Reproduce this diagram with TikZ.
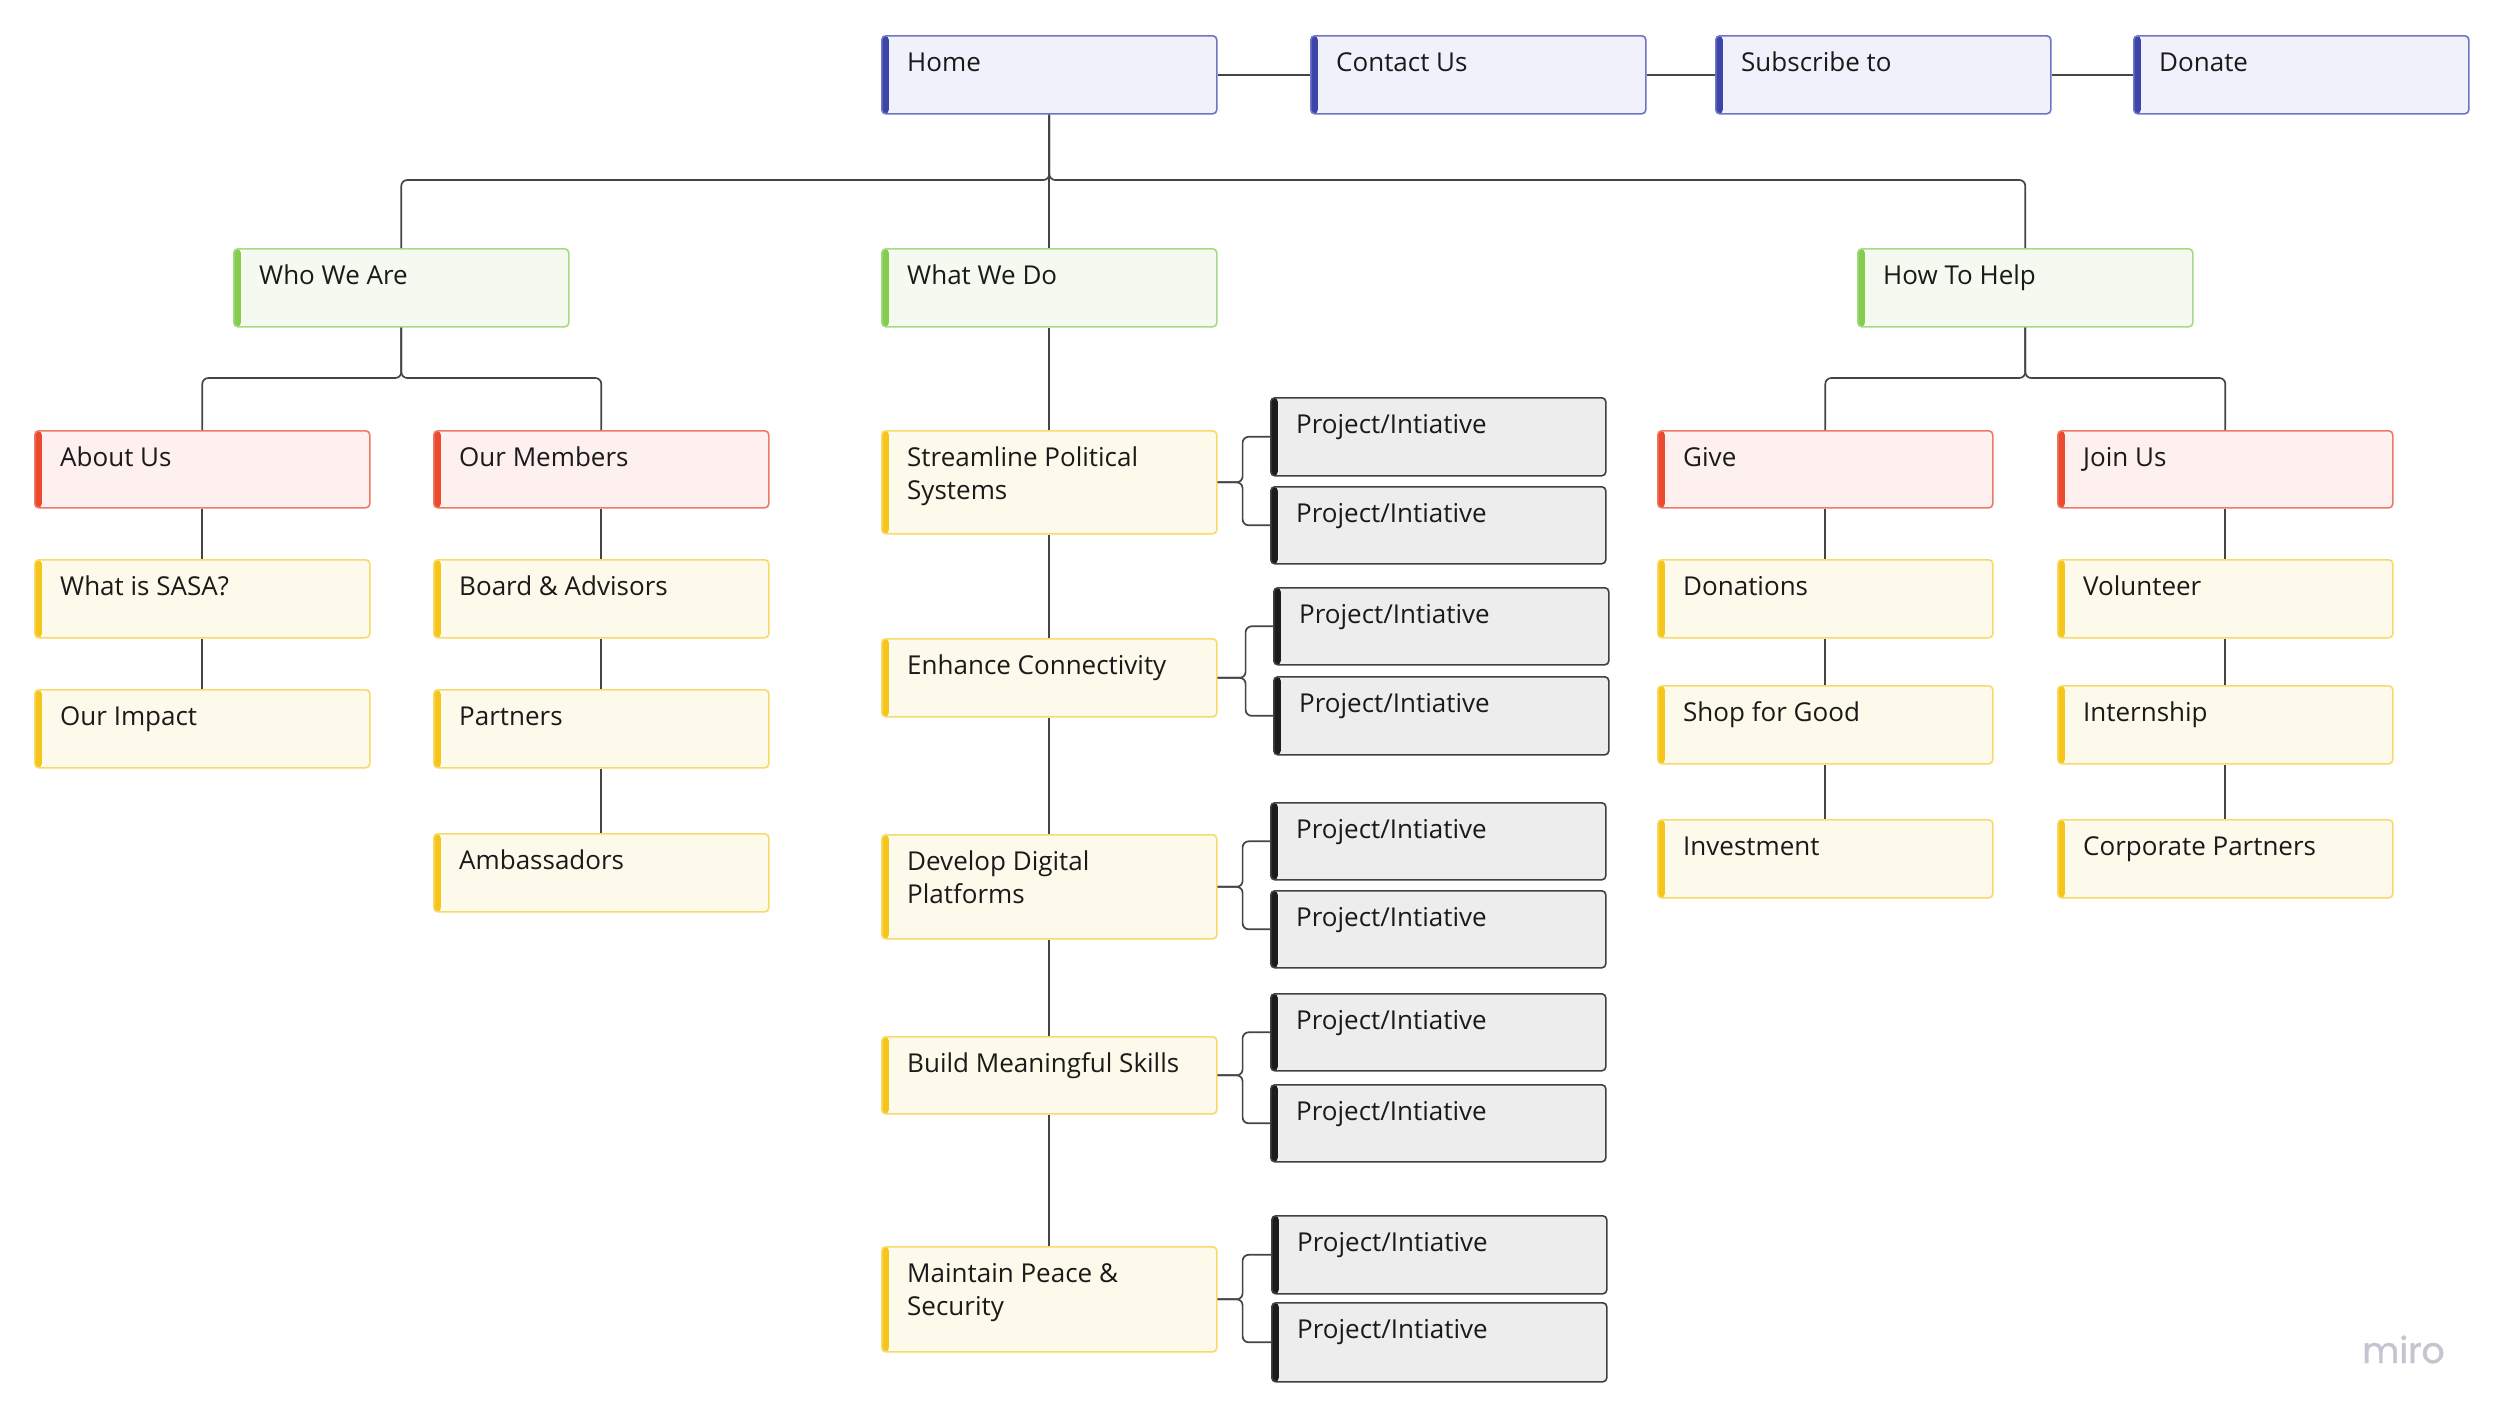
\documentclass[tikz,border=0pt]{standalone}
\usepackage{fontspec}
\setmainfont{Open Sans}
\newfontfamily\logofont[FakeBold=1.2]{Poppins}
\definecolor{bluebar}{HTML}{3C46A8}
\definecolor{blueline}{HTML}{6E75C4}
\definecolor{bluefill}{HTML}{F0F1FA}
\definecolor{greenbar}{HTML}{86CC4E}
\definecolor{greenline}{HTML}{A6DB85}
\definecolor{greenfill}{HTML}{F4FAEF}
\definecolor{redbar}{HTML}{EB4A2E}
\definecolor{redline}{HTML}{EC7A66}
\definecolor{redfill}{HTML}{FDF0EE}
\definecolor{yellowbar}{HTML}{F6C51C}
\definecolor{yellowline}{HTML}{F6DA6A}
\definecolor{yellowfill}{HTML}{FEFAEB}
\definecolor{graybar}{HTML}{1C1C1C}
\definecolor{grayline}{HTML}{404040}
\definecolor{grayfill}{HTML}{EDEDED}
\definecolor{linkcol}{HTML}{454545}
\definecolor{textcol}{HTML}{1A1A1A}
\definecolor{logocol}{HTML}{C5C5D2}
\newcommand\mkcard[5]{%
  \node[#1, minimum height=#4pt] (#2) at (#3) {};
  \node[cardtext] (#2-t) at ([xshift=26pt,yshift=-36.5pt]#2.north west)
    {\parbox[t]{300pt}{\raggedright #5}};
}
\begin{document}
\begin{tikzpicture}[x=1pt,y=-1pt,
  card/.style={rectangle, rounded corners=4pt, anchor=north west, inner sep=0pt,
    minimum width=335pt, line width=1.6pt},
  cardbar/.style={path picture={\fill[#1] (path picture bounding box.north west)
    rectangle ([xshift=7pt]path picture bounding box.south west);}},
  bluecard/.style={card, fill=bluefill, draw=blueline, cardbar=bluebar},
  greencard/.style={card, fill=greenfill, draw=greenline, cardbar=greenbar},
  redcard/.style={card, fill=redfill, draw=redline, cardbar=redbar},
  yellowcard/.style={card, fill=yellowfill, draw=yellowline, cardbar=yellowbar},
  graycard/.style={card, fill=grayfill, draw=grayline, cardbar=graybar},
  cardtext/.style={anchor=base west, inner sep=0pt, text=textcol,
    font=\fontsize{26}{33}\selectfont},
  link/.style={draw=linkcol, line width=1.7pt, rounded corners=6pt},
]
\useasboundingbox (0,0) rectangle (2500,1422);
\fill[white] (0,0) rectangle (2500,1422);

% top row
\mkcard{bluecard}{home}{881,35}{78}{Home}
\mkcard{bluecard}{contact}{1310,35}{78}{Contact Us}
\mkcard{bluecard}{subscribe}{1715,35}{78}{Subscribe to}
\mkcard{bluecard}{donate}{2133,35}{78}{Donate}

% level 2
\mkcard{greencard}{who}{233,248}{78}{Who We Are}
\mkcard{greencard}{what}{881,248}{78}{What We Do}
\mkcard{greencard}{help}{1857,248}{78}{How To Help}

% who we are
\mkcard{redcard}{about}{34,430}{77}{About Us}
\mkcard{redcard}{members}{433,430}{77}{Our Members}
\mkcard{yellowcard}{sasa}{34,559}{78}{What is SASA?}
\mkcard{yellowcard}{impact}{34,689}{78}{Our Impact}
\mkcard{yellowcard}{board}{433,559}{78}{Board \& Advisors}
\mkcard{yellowcard}{partners}{433,689}{78}{Partners}
\mkcard{yellowcard}{ambassadors}{433,833}{78}{Ambassadors}

% how to help
\mkcard{redcard}{give}{1657,430}{77}{Give}
\mkcard{redcard}{join}{2057,430}{77}{Join Us}
\mkcard{yellowcard}{donations}{1657,559}{78}{Donations}
\mkcard{yellowcard}{shop}{1657,685}{78}{Shop for Good}
\mkcard{yellowcard}{investment}{1657,819}{78}{Investment}
\mkcard{yellowcard}{volunteer}{2057,559}{78}{Volunteer}
\mkcard{yellowcard}{internship}{2057,685}{78}{Internship}
\mkcard{yellowcard}{corporate}{2057,819}{78}{Corporate Partners}

% what we do
\mkcard{yellowcard}{streamline}{881,430}{103}{Streamline Political\\Systems}
\mkcard{yellowcard}{enhance}{881,638}{78}{Enhance Connectivity}
\mkcard{yellowcard}{develop}{881,834}{104}{Develop Digital\\Platforms}
\mkcard{yellowcard}{build}{881,1036}{77}{Build Meaningful Skills}
\mkcard{yellowcard}{maintain}{881,1246}{105}{Maintain Peace \&\\Security}

% projects
\mkcard{graycard}{p1a}{1270,397}{78}{Project/Intiative}
\mkcard{graycard}{p1b}{1270,486}{77}{Project/Intiative}
\mkcard{graycard}{p2a}{1273,587}{77}{Project/Intiative}
\mkcard{graycard}{p2b}{1273,676}{78}{Project/Intiative}
\mkcard{graycard}{p3a}{1270,802}{77}{Project/Intiative}
\mkcard{graycard}{p3b}{1270,890}{77}{Project/Intiative}
\mkcard{graycard}{p4a}{1270,993}{77}{Project/Intiative}
\mkcard{graycard}{p4b}{1270,1084}{77}{Project/Intiative}
\mkcard{graycard}{p5a}{1271,1215}{78}{Project/Intiative}
\mkcard{graycard}{p5b}{1271,1302}{79}{Project/Intiative}

% logo
\node[anchor=base west, inner sep=0pt, text=logocol,
  font=\logofont\fontsize{36}{40}\selectfont] (logo) at (2362,1363) {miro};

% connectors
\draw[link] (home.east) -- (contact.west);
\draw[link] (contact.east) -- (subscribe.west);
\draw[link] (subscribe.east) -- (donate.west);

\coordinate (topbus) at (home.south |- 0,180);
\draw[link] (home.south) -- (what.north);
\draw[link] (home.south) -- (topbus) -| (who.north);
\draw[link] (home.south) -- (topbus) -| (help.north);

\coordinate (whobus) at (who.south |- 0,378);
\draw[link] (who.south) -- (whobus) -| (about.north);
\draw[link] (who.south) -- (whobus) -| (members.north);
\draw[link] (about.south) -- (sasa.north);
\draw[link] (sasa.south) -- (impact.north);
\draw[link] (members.south) -- (board.north);
\draw[link] (board.south) -- (partners.north);
\draw[link] (partners.south) -- (ambassadors.north);

\coordinate (helpbus) at (help.south |- 0,378);
\draw[link] (help.south) -- (helpbus) -| (give.north);
\draw[link] (help.south) -- (helpbus) -| (join.north);
\draw[link] (give.south) -- (donations.north);
\draw[link] (donations.south) -- (shop.north);
\draw[link] (shop.south) -- (investment.north);
\draw[link] (join.south) -- (volunteer.north);
\draw[link] (volunteer.south) -- (internship.north);
\draw[link] (internship.south) -- (corporate.north);

\draw[link] (what.south) -- (streamline.north);
\draw[link] (streamline.south) -- (enhance.north);
\draw[link] (enhance.south) -- (develop.north);
\draw[link] (develop.south) -- (build.north);
\draw[link] (build.south) -- (maintain.north);

\draw[link] (streamline.east) -- ++(25,0) |- (p1a.west);
\draw[link] (streamline.east) -- ++(25,0) |- (p1b.west);
\draw[link] (enhance.east) -- ++(28,0) |- (p2a.west);
\draw[link] (enhance.east) -- ++(28,0) |- (p2b.west);
\draw[link] (develop.east) -- ++(25,0) |- (p3a.west);
\draw[link] (develop.east) -- ++(25,0) |- (p3b.west);
\draw[link] (build.east) -- ++(25,0) |- (p4a.west);
\draw[link] (build.east) -- ++(25,0) |- (p4b.west);
\draw[link] (maintain.east) -- ++(25,0) |- (p5a.west);
\draw[link] (maintain.east) -- ++(25,0) |- (p5b.west);
\end{tikzpicture}
\end{document}
